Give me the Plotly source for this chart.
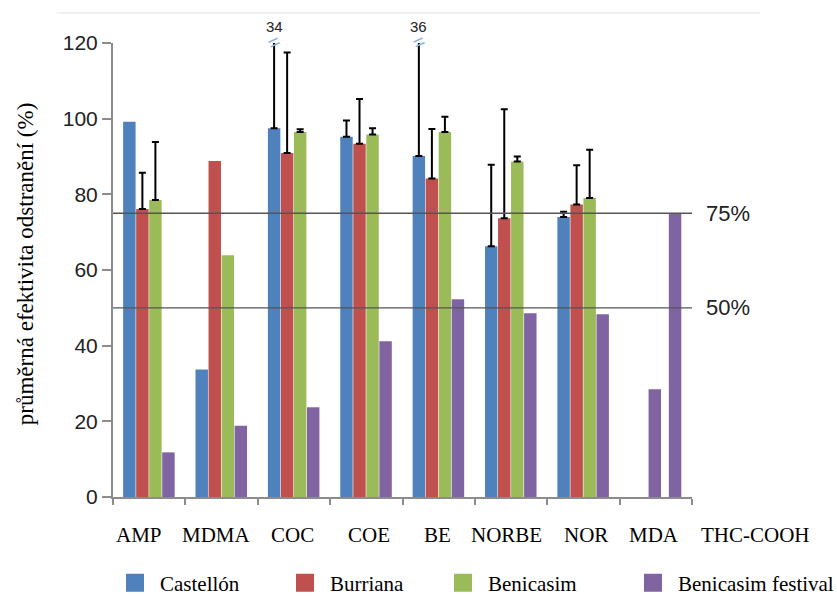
import plotly.graph_objects as go

# ---------------- data ----------------
categories = ["AMP", "MDMA", "COC", "COE", "BE", "NORBE", "NOR", "MDA", "THC-COOH"]
castellon = [99.2, 33.7, 97.5, 95.2, 90.1, 66.3, 74.0, None, None]
burriana = [76.1, 88.8, 90.9, 93.4, 84.2, 73.7, 77.3, None, None]
benicasim = [78.5, 63.9, 96.5, 95.8, 96.5, 88.7, 79.0, None, None]
festival = [11.8, 18.8, 23.7, 41.2, 52.3, 48.6, 48.3, 28.5, 75.0]

castellon_err = [None, None, 34, 4.3, 36, 21.5, 1.4, None, None]
burriana_err = [9.6, None, 26.6, 11.8, 13.1, 28.8, 10.4, None, None]
benicasim_err = [15.3, None, 0.7, 1.7, 4.0, 1.3, 12.8, None, None]

thresholds = [75, 50]
threshold_labels = ["75%", "50%"]
y_ticks = [0, 20, 40, 60, 80, 100, 120]
y_title = "průměrná efektivita odstranění (%)"
series_names = ["Castellón", "Burriana", "Benicasim", "Benicasim festival"]

# ---------------- style ----------------
COLORS = ["#4F81BD", "#C0504D", "#9BBB59", "#8064A2"]
SERIF = "Liberation Serif, Times New Roman, serif"
SANS = "Liberation Sans, Arial, sans-serif"
AXIS_GREY = "#8c8c8c"
BAR_W = 0.172
SLOT = 0.18
OFFSETS = [-0.36, -0.36 + SLOT, -0.36 + 2 * SLOT, -0.36 + 3 * SLOT]
# category label positions (fraction of plot width) as in the original figure
label_pos = [0.0449, 0.1796, 0.3092, 0.4421, 0.5613, 0.6788, 0.8169, 0.9344, 1.1105]
legend_x = [0.1314, 0.3345, 0.5233, 0.7503]  # container fractions

fig = go.Figure()

series = [castellon, burriana, benicasim]
errs = [castellon_err, burriana_err, benicasim_err]
for i in range(3):
    # non-numeric entries make plotly skip the error bar entirely
    plus = [e if e is not None else "none" for e in errs[i]]
    minus = [0 if e is not None else "none" for e in errs[i]]
    fig.add_trace(go.Bar(
        x=categories, y=series[i], name=series_names[i],
        marker=dict(color=COLORS[i], line=dict(width=0)),
        offset=OFFSETS[i], width=BAR_W, showlegend=False,
        error_y=dict(type="data", array=plus, symmetric=False,
                     arrayminus=minus, color="black", thickness=2, width=3.5),
    ))

# festival: MDA bar sits slightly left, THC-COOH bar drawn within the MDA slot
fest_offsets = [OFFSETS[3]] * 7 + [-0.10, OFFSETS[3] - 1]
fig.add_trace(go.Bar(
    x=categories, y=festival, name=series_names[3],
    marker=dict(color=COLORS[3], line=dict(width=0)),
    offset=fest_offsets, width=BAR_W, showlegend=False,
))

# threshold lines
for t, lab in zip(thresholds, threshold_labels):
    fig.add_shape(type="line", xref="paper", yref="y", x0=0, x1=1, y0=t, y1=t,
                  line=dict(color="#555555", width=1.3), layer="above")
    fig.add_annotation(xref="paper", yref="y", x=1.02, y=t, text=lab,
                       showarrow=False, xanchor="left", yanchor="middle",
                       font=dict(family=SANS, size=22, color="#222"))

# truncated error bars: value labels and break marks
for ci, err in enumerate(castellon_err):
    if err is not None and castellon[ci] + err > 120:
        xc = ci + OFFSETS[0] + BAR_W / 2
        fig.add_annotation(x=xc, y=120, xref="x", yref="y", text=str(err),
                           showarrow=False, yshift=17, font=dict(family=SANS, size=15, color="#222"))
        fig.add_annotation(x=xc, y=120, xref="x", yref="y", text="=",
                           showarrow=False, textangle=-25, yshift=1,
                           font=dict(family=SANS, size=20, color="#8fb3de"))

# category labels
for lab, pos in zip(categories, label_pos):
    fig.add_annotation(x=pos, y=0, xref="paper", yref="y", text=lab, showarrow=False,
                       yshift=-38, xanchor="center", yanchor="middle",
                       font=dict(family=SERIF, size=21, color="black"))

# y-axis title
fig.add_annotation(xref="paper", yref="paper", x=-0.152, y=0.515, text=y_title,
                   textangle=-90, showarrow=False, xanchor="center", yanchor="middle",
                   font=dict(family=SERIF, size=23, color="black"))

# legend entries (separate legends to place them like the original)
layout_legends = {}
for i, name in enumerate(series_names):
    lg = "legend" if i == 0 else f"legend{i + 1}"
    fig.add_trace(go.Scatter(x=[None], y=[None], mode="markers", name=name,
                             marker=dict(symbol="square", size=16, color=COLORS[i],
                                         line=dict(width=2, color=COLORS[i])),
                             legend=lg, showlegend=True))
    layout_legends[lg] = dict(x=legend_x[i], y=1 - 583 / 596, xanchor="left", yanchor="middle",
                              xref="container", yref="container", bgcolor="rgba(0,0,0,0)",
                              itemwidth=40, borderwidth=0,
                              font=dict(family=SERIF, size=21, color="black"))

fig.update_layout(
    width=837, height=596,
    margin=dict(l=113, r=145, t=43, b=99, autoexpand=False),
    paper_bgcolor="white", plot_bgcolor="white",
    barmode="overlay",
    **layout_legends,
)
fig.update_xaxes(
    type="category", categoryorder="array", categoryarray=categories,
    range=[-0.5, 7.5], showticklabels=False, tickson="boundaries",
    ticks="outside", ticklen=6, tickcolor=AXIS_GREY, tickwidth=2,
    showline=True, linecolor=AXIS_GREY, linewidth=2, showgrid=False, zeroline=False,
    automargin=False,
)
fig.update_yaxes(
    range=[0, 120], tickvals=y_ticks, ticks="outside", ticklen=9,
    tickcolor=AXIS_GREY, tickwidth=2, showline=True, linecolor=AXIS_GREY, linewidth=2,
    showgrid=False, zeroline=False, automargin=False,
    tickfont=dict(family=SANS, size=21, color="#222"),
)
# faint top border line of original image
fig.add_shape(type="line", xref="paper", yref="paper", x0=-0.097, x1=1.117, y0=1.066, y1=1.066,
              line=dict(color="#f0f0f0", width=2))

fig.write_html("out.html", config={"displayModeBar": False},
               post_script="document.body.style.margin='0';")
